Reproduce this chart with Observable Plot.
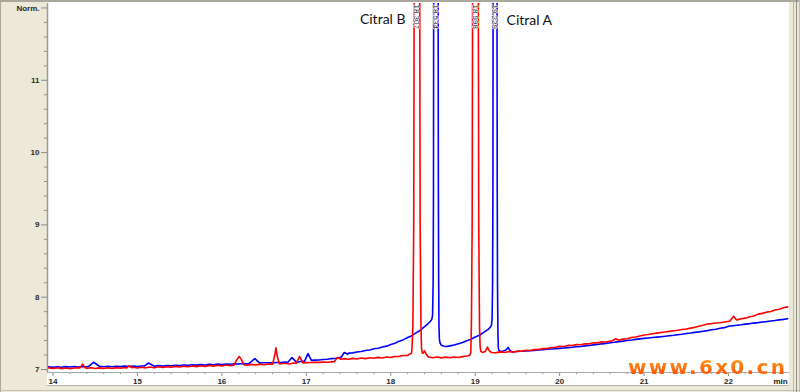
<!DOCTYPE html>
<html>
<head>
<meta charset="utf-8">
<script src="https://cdn.jsdelivr.net/npm/d3@7"></script>
<script src="https://cdn.jsdelivr.net/npm/@observablehq/plot@0.6"></script>
<style>
html,body{margin:0;padding:0;background:#ECE9D8;}
#wrap{position:relative;width:800px;height:392px;background:#ECE9D8;overflow:hidden;}
.ln{position:absolute;}
#chart{position:absolute;left:0;top:0;}
#wm{position:absolute;left:628px;top:357px;font:bold 20px 'DejaVu Sans',sans-serif;letter-spacing:2.3px;line-height:20px;white-space:nowrap;
background:linear-gradient(#ffa21e,#ff4a00);-webkit-background-clip:text;background-clip:text;color:transparent;}
</style>
</head>
<body>
<div id="wrap">
  <div class="ln" style="left:0;top:0;width:800px;height:2px;background:#aaa89d"></div>
  <div class="ln" style="left:0;top:0;width:1px;height:392px;background:#aaa89d"></div>
  <div class="ln" style="left:47px;top:2px;width:742px;height:383px;background:#fff"></div>
  <div class="ln" style="left:47px;top:385px;width:742px;height:1px;background:#b4b2a8"></div>
  <div class="ln" style="left:0;top:390px;width:800px;height:1px;background:#c4c2b8"></div>
  <div class="ln" style="left:793px;top:0;width:1px;height:392px;background:#b8b6ac"></div>
  <div class="ln" style="left:796px;top:0;width:1px;height:392px;background:#8e8c84"></div>
  <div class="ln" style="left:799px;top:0;width:1px;height:392px;background:#c0beb4"></div>
  <div id="chart"></div>
  <div id="wm">www.6x0.cn</div>
</div>
<script>
// ---- data ----
// baseline samples every dt minutes starting at t0
const t0 = 13.95, dt = 0.05;

const redBase = [
  7.022, 7.014, 7.023, 7.012, 7.021, 7.011, 7.020, 7.022, 7.028, 7.016, 7.024, 7.013, 7.022, 7.014, 7.025, 7.015, 7.026, 7.017, 7.027, 7.022,
  7.030, 7.021, 7.032, 7.023, 7.035, 7.025, 7.037, 7.028, 7.040, 7.031, 7.043, 7.034, 7.046, 7.037, 7.049, 7.040, 7.052, 7.043, 7.055, 7.047,
  7.059, 7.050, 7.062, 7.053, 7.064, 7.056, 7.068, 7.059, 7.071, 7.062, 7.074, 7.065, 7.077, 7.068, 7.080, 7.079, 7.086, 7.077, 7.089, 7.081,
  7.094, 7.095, 7.096, 7.099, 7.098, 7.102, 7.101, 7.105, 7.120, 7.142, 7.150, 7.142, 7.154, 7.146, 7.159, 7.150, 7.163, 7.155, 7.168, 7.160,
  7.174, 7.166, 7.180, 7.182, 7.194, 7.196, 7.220, 7.220, 7.220, 7.200, 7.174, 7.163, 7.172, 7.161, 7.171, 7.162, 7.173, 7.165, 7.178, 7.186,
  7.200, 7.200, 7.240, 7.240, 7.250, 7.235, 7.233, 7.244, 7.235, 7.248, 7.240, 7.254, 7.253, 7.264, 7.263, 7.277, 7.275, 7.290, 7.289, 7.304,
  7.308, 7.320, 7.319, 7.333, 7.331, 7.344, 7.343, 7.357, 7.355, 7.370, 7.368, 7.382, 7.381, 7.394, 7.400, 7.405, 7.420, 7.425, 7.442, 7.449,
  7.464, 7.476, 7.485, 7.494, 7.503, 7.511, 7.519, 7.527, 7.535, 7.543, 7.553, 7.561, 7.572, 7.583, 7.599, 7.613, 7.629, 7.634, 7.643, 7.646,
  7.657, 7.666, 7.680, 7.686, 7.701, 7.710, 7.729, 7.740, 7.766, 7.776, 7.793, 7.803, 7.823, 7.833, 7.853, 7.866
];

const blueBase = [
  7.036, 7.031, 7.039, 7.032, 7.040, 7.034, 7.041, 7.035, 7.042, 7.036, 7.042, 7.040, 7.044, 7.038, 7.045, 7.039, 7.046, 7.040, 7.047, 7.041,
  7.048, 7.042, 7.049, 7.043, 7.050, 7.046, 7.053, 7.048, 7.056, 7.051, 7.059, 7.054, 7.062, 7.057, 7.065, 7.060, 7.068, 7.063, 7.071, 7.066,
  7.074, 7.069, 7.077, 7.072, 7.080, 7.075, 7.083, 7.078, 7.085, 7.080, 7.088, 7.093, 7.094, 7.094, 7.097, 7.097, 7.102, 7.100, 7.107, 7.103,
  7.113, 7.120, 7.125, 7.129, 7.132, 7.139, 7.142, 7.151, 7.156, 7.165, 7.200, 7.226, 7.230, 7.242, 7.248, 7.262, 7.270, 7.286, 7.294, 7.312,
  7.323, 7.347, 7.363, 7.392, 7.413, 7.442, 7.468, 7.507, 7.543, 7.592, 7.640, 7.700, 7.700, 7.330, 7.320, 7.327, 7.338, 7.357, 7.373, 7.397,
  7.418, 7.450, 7.474, 7.514, 7.550, 7.600, 7.600, 7.250, 7.260, 7.270, 7.246, 7.248, 7.252, 7.256, 7.260, 7.265, 7.270, 7.274, 7.280, 7.284,
  7.288, 7.292, 7.297, 7.302, 7.307, 7.314, 7.319, 7.327, 7.332, 7.340, 7.346, 7.355, 7.361, 7.370, 7.376, 7.385, 7.392, 7.401, 7.408, 7.417,
  7.424, 7.430, 7.436, 7.442, 7.448, 7.454, 7.460, 7.467, 7.473, 7.481, 7.488, 7.497, 7.504, 7.513, 7.520, 7.530, 7.538, 7.550, 7.557, 7.570,
  7.579, 7.598, 7.605, 7.613, 7.619, 7.628, 7.634, 7.642, 7.648, 7.656, 7.662, 7.670, 7.677, 7.686, 7.693, 7.703
];

// peaks and small bumps: explicit [time, value] points, replacing the baseline over their span
const redPeaks = [
  [[14.32,7.022],[14.35,7.075],[14.38,7.024]],
  [[14.87,7.020],[14.90,7.052],[14.93,7.026]],
  [[16.14,7.058],[16.18,7.140],[16.205,7.180],[16.23,7.140],[16.26,7.066]],
  [[16.60,7.072],[16.625,7.190],[16.64,7.300],[16.655,7.190],[16.68,7.080]],
  [[16.88,7.085],[16.92,7.180],[16.96,7.092]],
  [[17.33,7.108],[17.37,7.165],[17.41,7.142]],
  [[18.22,7.212],[18.245,7.226],[18.252,7.30],[18.262,7.60],[18.272,9.0],[18.277,12.2],[18.292,25],[18.31,40],
   [18.328,25],[18.343,12.2],[18.348,9.0],[18.358,7.60],[18.364,7.30],[18.372,7.232],[18.385,7.226],[18.40,7.258],[18.415,7.222],[18.44,7.180]],
  [[18.92,7.190],[18.94,7.204],[18.948,7.24],[18.955,7.60],[18.964,9.0],[18.969,12.2],[18.985,25],[19.003,40],
   [19.021,25],[19.037,12.2],[19.042,9.0],[19.051,7.60],[19.058,7.32],[19.066,7.25],[19.085,7.236],[19.12,7.250],[19.145,7.310],[19.165,7.262],[19.19,7.236],[19.22,7.232]],
  [[20.62,7.394],[20.665,7.425],[20.70,7.405]],
  [[22.02,7.674],[22.06,7.735],[22.09,7.690]]
];

const bluePeaks = [
  [[14.42,7.040],[14.48,7.100],[14.55,7.045]],
  [[15.08,7.048],[15.13,7.090],[15.19,7.051]],
  [[16.32,7.082],[16.39,7.150],[16.45,7.089]],
  [[16.78,7.098],[16.83,7.165],[16.88,7.106]],
  [[16.98,7.115],[17.02,7.220],[17.06,7.126]],
  [[17.41,7.167],[17.45,7.235],[17.49,7.210]],
  [[18.44,7.632],[18.47,7.668],[18.485,7.69],[18.495,7.75],[18.502,8.2],[18.506,9.5],[18.508,12.2],[18.52,25],[18.535,40],
   [18.55,25],[18.561,12.2],[18.564,9.5],[18.567,8.3],[18.571,7.6],[18.576,7.42],[18.583,7.37],[18.60,7.335],[18.63,7.322],[18.66,7.318]],
  [[19.15,7.552],[19.18,7.585],[19.192,7.61],[19.20,7.70],[19.206,8.2],[19.210,9.5],[19.212,12.2],[19.222,25],[19.235,40],
   [19.248,25],[19.258,12.2],[19.261,9.5],[19.264,8.2],[19.269,7.5],[19.274,7.3],[19.281,7.262],[19.30,7.250],[19.33,7.256],[19.36,7.266],[19.39,7.305],[19.41,7.265],[19.43,7.246]]
];

const peakTimes = [18.31, 18.535, 19.003, 19.235];
const peakLabels = ["18.307", "18.534", "18.998", "19.229"];

const compoundNames = ["Citral B", "Citral A"];
const compoundX = [18.175, 19.371];
const compoundY = [11.834, 11.82];

const xTicks = [14, 15, 16, 17, 18, 19, 20, 21, 22];
const yTicks = [7, 8, 9, 10, 11, 12];
const yTickLabels = ["7", "8", "9", "10", "11", "Norm."];
const xUnit = "min";

// ---- build ----
function build(base, segs) {
  let pts = base.map((v, i) => ({t: +(t0 + dt * i).toFixed(4), v}));
  for (const s of segs) {
    const a = s[0][0] - 1e-6, b = s[s.length - 1][0] + 1e-6;
    pts = pts.filter(p => p.t < a || p.t > b);
    for (const [t, v] of s) pts.push({t, v});
  }
  pts.sort((p, q) => p.t - q.t);
  return pts;
}
const red = build(redBase, redPeaks);
const blue = build(blueBase, bluePeaks);

const xDomain = [13.935, 22.722];
const yDomain = [6.9585, 12.062];
const yMinor = d3.range(7, 12.001, 0.2).filter(v => Math.abs(v - Math.round(v)) > 0.01);
const xMinor = d3.range(14, 22.72, 0.2).filter(v => Math.abs(v - Math.round(v)) > 0.01);

const tickStroke = "#8c8c8c";
const labelFill = "#2a2a2a";

const chart = Plot.plot({
  width: 800,
  height: 392,
  marginLeft: 47,
  marginRight: 11,
  marginTop: 3,
  marginBottom: 20,
  x: {domain: xDomain},
  y: {domain: yDomain},
  style: {background: "transparent", fontFamily: "'Liberation Sans', Arial, sans-serif", fontSize: "8px", color: "#333", overflow: "visible"},
  marks: [
    Plot.axisY({ticks: yMinor, tickSize: 3, tickFormat: () => "", stroke: tickStroke, label: null}),
    Plot.axisY({ticks: yTicks, tickSize: 6, tickPadding: 2, tickFormat: d => yTickLabels[yTicks.indexOf(d)], stroke: tickStroke, fill: labelFill, fontWeight: "bold", label: null}),
    Plot.axisX({ticks: xMinor, tickSize: 2, tickFormat: () => "", stroke: tickStroke, label: null}),
    Plot.axisX({ticks: xTicks, tickSize: 4, tickPadding: 2, stroke: tickStroke, fill: labelFill, fontWeight: "bold", label: null}),
    Plot.ruleX([xDomain[0]], {stroke: "#9a9a9a", strokeWidth: 1.5}),
    Plot.ruleY([yDomain[0]], {stroke: "#a8a8a8"}),
    Plot.line(blue, {x: "t", y: "v", stroke: "#0000ff", strokeWidth: 1.6, clip: true}),
    Plot.line(red, {x: "t", y: "v", stroke: "#ff0000", strokeWidth: 1.6, clip: true}),
    Plot.text(peakTimes, {x: d => d, frameAnchor: "top", text: (d, i) => peakLabels[i], rotate: 90, textAnchor: "start", lineAnchor: "middle", dy: 1, fill: "#222", stroke: "white", strokeWidth: 1.2, fontSize: 8}),
    Plot.text([0], {x: i => compoundX[i], y: i => compoundY[i], text: i => compoundNames[i], textAnchor: "end", fontSize: 14, fontFamily: "Lato, 'Open Sans', sans-serif", fill: "#111"}),
    Plot.text([1], {x: i => compoundX[i], y: i => compoundY[i], text: i => compoundNames[i], textAnchor: "start", fontSize: 14, fontFamily: "Lato, 'Open Sans', sans-serif", fill: "#111"}),
    Plot.text([xUnit], {x: () => 22.616, frameAnchor: "bottom", dy: 11, text: d => d, fontWeight: "bold", fill: "#222", fontSize: 8})
  ]
});
document.getElementById("chart").appendChild(chart);
</script>
</body>
</html>
